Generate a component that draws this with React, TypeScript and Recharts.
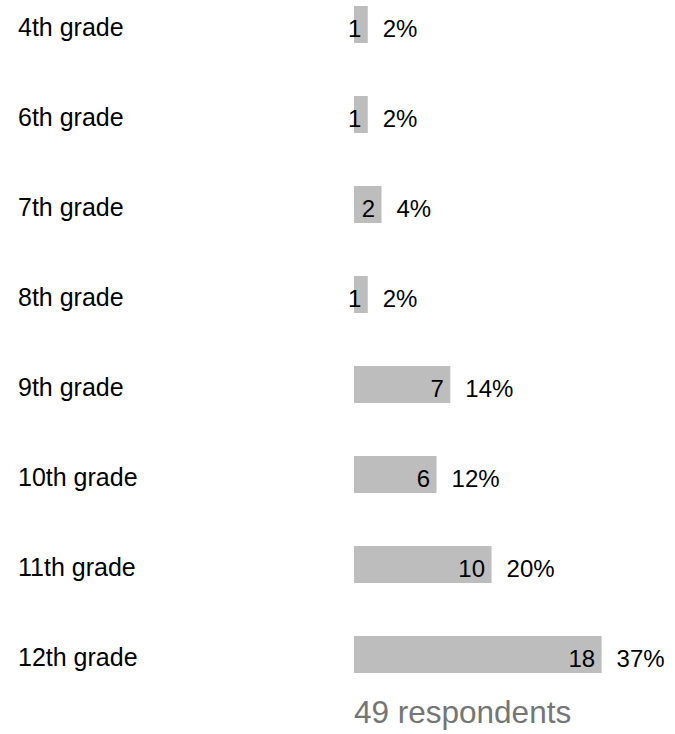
import React from 'react';
import { BarChart, Bar, XAxis, YAxis, LabelList } from 'recharts';

const grades = ['4th grade', '6th grade', '7th grade', '8th grade', '9th grade', '10th grade', '11th grade', '12th grade'];
const counts = [1, 1, 2, 1, 7, 6, 10, 18];
const percents = ['2%', '2%', '4%', '2%', '14%', '12%', '20%', '37%'];
const respondents = '49 respondents';

const data = grades.map((grade, i) => ({ grade, count: counts[i], pct: percents[i] }));

const FONT = '"Liberation Sans", Arial, sans-serif';

const GradeTick = ({ y, payload }: any) => (
  <text x={18} y={y} dy={12} textAnchor="start" fontSize={25} fontFamily={FONT} fill="#000">
    {payload.value}
  </text>
);

// count sits inside the bar end, slightly below center like the original
const CountLabel = ({ x, y, width, height, value }: any) => (
  <text x={x + width - 6.5} y={y + height / 2} dy={12.5} textAnchor="end" fontSize={24} fontFamily={FONT} fill="#000">
    {value}
  </text>
);

const PctLabel = ({ x, y, width, height, index }: any) => (
  <text x={x + width + 15} y={y + height / 2} dy={12.5} textAnchor="start" fontSize={24} fontFamily={FONT} fill="#000">
    {data[index].pct}
  </text>
);

const RespondentsLabel = ({ viewBox }: any) => (
  <text x={viewBox.x} y={viewBox.y + 24} textAnchor="start" fontSize={31.5} fontFamily={FONT} fill="#757575">
    {respondents}
  </text>
);

const App: React.FC = () => {
  return (
    <div style={{ position: 'absolute', left: 0, top: -21 }}>
      <BarChart
        width={675}
        height={755}
        data={data}
        layout="vertical"
        margin={{ top: 0, right: 72, left: 0, bottom: 0 }}
      >
        <XAxis
          type="number"
          domain={[0, 18.1]}
          height={35}
          axisLine={false}
          tickLine={false}
          tick={false}
          label={<RespondentsLabel />}
        />
        <YAxis
          type="category"
          dataKey="grade"
          width={354}
          axisLine={false}
          tickLine={false}
          tick={<GradeTick />}
        />
        <Bar dataKey="count" fill="#bdbdbd" barSize={37} isAnimationActive={false}>
          <LabelList dataKey="count" content={<CountLabel />} />
          <LabelList dataKey="pct" content={<PctLabel />} />
        </Bar>
      </BarChart>
    </div>
  );
};

export default App;
